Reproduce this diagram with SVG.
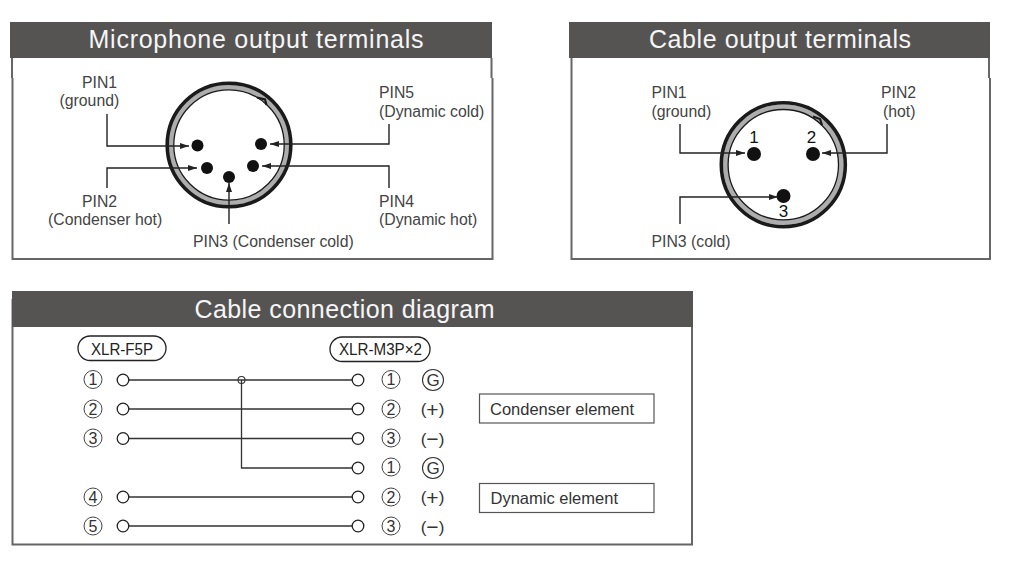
<svg xmlns="http://www.w3.org/2000/svg" width="1023" height="584" viewBox="0 0 1023 584">
<style>
text{font-family:"Liberation Sans",Arial,sans-serif}
.hd{fill:#555453}
.ttl{fill:#f6f6f6;font-size:25px;text-anchor:middle}
.lb{fill:#444;font-size:15.800px}
.el{fill:#333;font-size:16.500px}
.lbk{fill:#222;font-size:16px}
.pn{fill:none;stroke:#666;stroke-width:2}
.ln{fill:none;stroke:#222;stroke-width:1.4}
.w{fill:none;stroke:#333;stroke-width:1.3}
.t{fill:#fff;stroke:#222;stroke-width:1.3}
.n{fill:none;stroke:#444;stroke-width:1}
.d{fill:#333;font-size:16px;text-anchor:middle}
.pm{fill:#333;font-size:17px;text-anchor:middle}
.big{font-size:21px}
.g{fill:#333;font-size:17px;text-anchor:middle}
.pin{fill:#111}
.bx{fill:#fff;stroke:#555;stroke-width:1.2}
.rg{fill:none;stroke:#adadad;stroke-width:5}
.rb{fill:none;stroke:#1a1a1a;stroke-width:3.600}
.ri{fill:none;stroke:#1a1a1a;stroke-width:1.300}
.nt{fill:none;stroke:#1a1a1a;stroke-width:2.200}
.num{fill:#111;font-size:17px;text-anchor:middle}
</style>
<defs>
<marker id="ar" markerWidth="10" markerHeight="7" refX="9" refY="3.500" orient="auto" markerUnits="userSpaceOnUse"><path d="M0 0.500L9 3.500L0 6.500z" fill="#222"/></marker>
</defs>
<rect width="1023" height="584" fill="#fff"/>

<g id="panel-mic">
<path class="pn" d="M12 58V78M12.500 78V259H492.500V78M491.500 78V58"/>
<rect class="hd" x="10" y="22" width="482" height="36"/>
<text class="ttl" x="256" y="48" textLength="335">Microphone output terminals</text>
</g>
<g id="connector-mic">
<circle class="rg" cx="229" cy="145" r="57.800"/>
<circle class="rb" cx="229" cy="145" r="61.800"/>
<circle class="ri" cx="229" cy="145" r="55.200"/>
<path class="nt" d="M257 97.500L265 99.500L266.500 105"/>
<circle class="pin" cx="197.500" cy="145.500" r="6"/>
<circle class="pin" cx="261" cy="144" r="6"/>
<circle class="pin" cx="207" cy="168" r="6"/>
<circle class="pin" cx="253" cy="166" r="6"/>
<circle class="pin" cx="229" cy="177" r="6"/>
</g>
<g id="connectors-mic">
<path class="ln" marker-end="url(#ar)" d="M107 114V146H189"/>
<path class="ln" marker-end="url(#ar)" d="M107 188V168H197"/>
<path class="ln" marker-end="url(#ar)" d="M229 224V183"/>
<path class="ln" marker-end="url(#ar)" d="M389 188V166H262"/>
<path class="ln" marker-end="url(#ar)" d="M389 124V144H270"/>
</g>
<g id="labels-mic">
<text class="lb" x="82" y="88">PIN1</text>
<text class="lb" x="59.500" y="106">(ground)</text>
<text class="lb" x="379" y="98">PIN5</text>
<text class="lb" x="379" y="117">(Dynamic cold)</text>
<text class="lb" x="82" y="207">PIN2</text>
<text class="lb" x="48" y="225">(Condenser hot)</text>
<text class="lb" x="379" y="207">PIN4</text>
<text class="lb" x="379" y="225">(Dynamic hot)</text>
<text class="lb" x="193" y="247">PIN3 (Condenser cold)</text>
</g>

<g id="panel-cable">
<path class="pn" d="M571.500 58V78M571.500 78V259H990V78M989 78V58"/>
<rect class="hd" x="569" y="22" width="421" height="36"/>
<text class="ttl" x="780" y="48" textLength="262">Cable output terminals</text>
</g>
<g id="connector-cable">
<circle class="rg" cx="783.300" cy="164.700" r="57.800"/>
<circle class="rb" cx="783.300" cy="164.700" r="62"/>
<circle class="ri" cx="783.300" cy="164.700" r="55.200"/>
<path class="nt" d="M813 116.500L820 119L822 125"/>
<circle class="pin" cx="754" cy="154" r="7"/>
<circle class="pin" cx="813" cy="154" r="7"/>
<circle class="pin" cx="783.500" cy="196" r="7"/>
<text class="num" x="754" y="143">1</text>
<text class="num" x="811.500" y="143">2</text>
<text class="num" x="783.500" y="217">3</text>
</g>
<g id="connectors-cable">
<path class="ln" marker-end="url(#ar)" d="M680 124V153H745"/>
<path class="ln" marker-end="url(#ar)" d="M887 124V153H822"/>
<path class="ln" marker-end="url(#ar)" d="M680 224V197H778"/>
</g>
<g id="labels-cable">
<text class="lb" x="651.500" y="98">PIN1</text>
<text class="lb" x="651.500" y="117">(ground)</text>
<text class="lb" x="881" y="98">PIN2</text>
<text class="lb" x="883" y="117">(hot)</text>
<text class="lb" x="651.500" y="247">PIN3 (cold)</text>
</g>

<g id="panel-diagram">
<rect class="pn" x="12.500" y="300" width="679.500" height="244.500"/>
<rect class="hd" x="12" y="291" width="681" height="36"/>
<text class="ttl" x="344.500" y="318" textLength="300">Cable connection diagram</text>
</g>
<g id="connectors-diagram">
<path class="w" d="M129 380H352M129 409H352M129 438.500H352M129 497H352M129 526H352M241.500 380V468H352"/>
<circle cx="241.500" cy="380" r="3.500" fill="none" stroke="#333" stroke-width="1.100"/>
</g>
<g id="xlr-f5p">
<rect x="78" y="336" width="88" height="24.500" rx="12.200" fill="#fff" stroke="#222" stroke-width="1.300"/>
<text class="lbk" x="122" y="354.500" text-anchor="middle" textLength="62" lengthAdjust="spacingAndGlyphs">XLR-F5P</text>
</g>
<g id="xlr-m3p">
<rect x="330" y="337" width="100" height="24.500" rx="12.200" fill="#fff" stroke="#222" stroke-width="1.300"/>
<text class="lbk" x="380.500" y="355" text-anchor="middle" textLength="83" lengthAdjust="spacingAndGlyphs">XLR-M3P×2</text>
</g>
<g id="left-pins">
<circle class="t" cx="123" cy="380" r="5.800"/><circle class="t" cx="123" cy="409" r="5.800"/><circle class="t" cx="123" cy="438.500" r="5.800"/><circle class="t" cx="123" cy="497" r="5.800"/><circle class="t" cx="123" cy="526" r="5.800"/>
<circle class="n" cx="93" cy="379.500" r="9"/><text class="d" x="93" y="385">1</text>
<circle class="n" cx="93" cy="409" r="9"/><text class="d" x="93" y="414.500">2</text>
<circle class="n" cx="93" cy="438" r="9"/><text class="d" x="93" y="443.500">3</text>
<circle class="n" cx="93" cy="497" r="9"/><text class="d" x="93" y="502.500">4</text>
<circle class="n" cx="93" cy="526" r="9"/><text class="d" x="93" y="531.500">5</text>
</g>
<g id="right-pins">
<circle class="t" cx="358" cy="380" r="5.800"/><circle class="t" cx="358" cy="409" r="5.800"/><circle class="t" cx="358" cy="438.500" r="5.800"/><circle class="t" cx="358" cy="468" r="5.800"/><circle class="t" cx="358" cy="497" r="5.800"/><circle class="t" cx="358" cy="526" r="5.800"/>
<circle class="n" cx="391" cy="379.500" r="9"/><text class="d" x="391" y="385">1</text>
<circle class="n" cx="391" cy="409" r="9"/><text class="d" x="391" y="414.500">2</text>
<circle class="n" cx="391" cy="438" r="9"/><text class="d" x="391" y="443.500">3</text>
<circle class="n" cx="391" cy="467" r="9"/><text class="d" x="391" y="472.500">1</text>
<circle class="n" cx="391" cy="497" r="9"/><text class="d" x="391" y="502.500">2</text>
<circle class="n" cx="391" cy="526" r="9"/><text class="d" x="391" y="531.500">3</text>
</g>
<g id="polarity">
<circle cx="433" cy="380" r="10.500" fill="none" stroke="#333" stroke-width="1.100"/><text class="g" x="433" y="386">G</text>
<text class="pm" x="432.500" y="415">(<tspan class="big" dy="1.500">+</tspan><tspan dy="-1.500">)</tspan></text>
<text class="pm" x="432.500" y="444.500">(<tspan class="big" dy="1.500">−</tspan><tspan dy="-1.500">)</tspan></text>
<circle cx="433" cy="468" r="10.500" fill="none" stroke="#333" stroke-width="1.100"/><text class="g" x="433" y="474">G</text>
<text class="pm" x="432.500" y="503">(<tspan class="big" dy="1.500">+</tspan><tspan dy="-1.500">)</tspan></text>
<text class="pm" x="432.500" y="532.500">(<tspan class="big" dy="1.500">−</tspan><tspan dy="-1.500">)</tspan></text>
</g>
<g id="condenser-element">
<rect class="bx" x="479.500" y="394" width="174.500" height="29"/>
<text class="el" x="490" y="415">Condenser element</text>
</g>
<g id="dynamic-element">
<rect class="bx" x="479.500" y="483.500" width="174.500" height="29"/>
<text class="el" x="490.500" y="504">Dynamic element</text>
</g>
</svg>
